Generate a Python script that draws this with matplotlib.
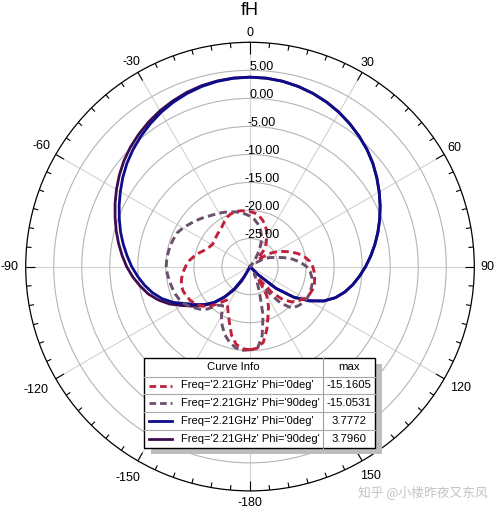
import numpy as np
import matplotlib
matplotlib.use('Agg')
import matplotlib.pyplot as plt
from matplotlib.patches import Rectangle
from matplotlib.lines import Line2D

plt.rcParams['font.family'] = ['Liberation Sans', 'DejaVu Sans']

# ---------------- data ----------------
theta_deg = np.arange(-180, 185, 5)   # sample angles, -180 ... 180

fh_phi0_dashed = [
    -15.16, -15.3, -15.9, -17.3, -19.3, -20.8, -22.0, -22.7, -21.5, -20.0,   # -180..-135
    -19.0, -18.3, -17.8, -17.5, -17.3, -17.3, -17.6, -18.0, -18.5, -19.0,    # -130..-85
    -19.8, -20.6, -21.4, -21.9, -22.2, -22.2, -22.0, -21.8, -21.6, -21.3,    # -80..-35
    -20.8, -20.3, -20.0, -19.9, -19.9, -20.0, -20.2, -20.4, -20.8, -21.4,    # -30..15
    -22.1, -23.0, -24.0, -25.0, -26.0, -28.0, -28.0, -26.0, -24.8, -23.6,    # 20..65
    -22.3, -21.1, -20.1, -19.3, -18.8, -18.5, -18.3, -18.1, -18.1, -18.3,    # 70..115
    -18.7, -19.4, -20.2, -21.6, -24.0, -27.5, -24.0, -22.2, -20.6, -18.4,    # 120..165
    -16.3, -15.4, -15.16,                                                    # 170..180
]

fh_phi90_dashed = [
    -15.2, -15.0, -15.3, -16.0, -17.0, -18.3, -19.8, -21.5, -21.0, -19.3,
    -18.2, -17.4, -16.6, -16.1, -15.8, -15.6, -15.4, -15.2, -15.05, -15.1,
    -15.2, -15.3, -15.5, -15.7, -16.2, -16.8, -17.3, -17.8, -18.3, -18.7,
    -19.0, -19.3, -19.6, -19.9, -20.2, -20.6, -21.0, -21.5, -22.2, -23.0,
    -24.0, -25.3, -26.8, -28.3, -29.5, -30.0, -30.0, -29.0, -27.5, -26.2,
    -25.2, -23.8, -22.3, -21.0, -19.9, -19.2, -18.8, -18.5, -18.4, -18.3,
    -18.4, -18.6, -19.0, -19.6, -21.5, -24.5, -28.5, -27.0, -25.0, -21.0,
    -17.5, -15.2, -15.2,
]

fh_phi0_solid = [
    -35.0, -35.0, -35.0, -35.0, -33.0, -30.5, -27.8, -25.2, -23.0, -21.0,
    -19.5, -18.2, -16.8, -14.9, -13.3, -12.0, -10.9, -9.9, -8.9, -8.0,
    -7.05, -6.1, -5.2, -4.25, -3.3, -2.3, -1.35, -0.5, 0.3, 1.05,
    1.75, 2.35, 2.85, 3.25, 3.55, 3.72, 3.777, 3.72, 3.55, 3.25,
    2.85, 2.35, 1.75, 1.05, 0.3, -0.5, -1.4, -2.4, -3.4, -4.4,
    -5.4, -6.4, -7.4, -8.4, -9.4, -10.4, -11.4, -12.5, -13.8, -15.5,
    -17.8, -20.5, -24.0, -28.0, -32.0, -35.0, -35.0, -35.0, -35.0, -35.0,
    -35.0, -35.0, -35.0,
]

fh_phi90_solid = [
    -35.0, -35.0, -35.0, -35.0, -32.0, -29.5, -27.0, -24.8, -22.8, -20.8,
    -19.2, -17.7, -16.1, -14.2, -12.6, -11.2, -10.1, -9.0, -8.0, -7.1,
    -6.2, -5.3, -4.4, -3.45, -2.5, -1.55, -0.65, 0.15, 0.85, 1.5,
    2.1, 2.6, 3.05, 3.4, 3.62, 3.76, 3.796, 3.74, 3.57, 3.27,
    2.87, 2.37, 1.77, 1.07, 0.32, -0.48, -1.38, -2.38, -3.38, -4.38,
    -5.38, -6.38, -7.38, -8.38, -9.38, -10.38, -11.38, -12.48, -13.78, -15.48,
    -17.78, -20.48, -24.0, -28.0, -32.0, -35.0, -35.0, -35.0, -35.0, -35.0,
    -35.0, -35.0, -35.0,
]

curve_labels = ["Freq='2.21GHz' Phi='0deg'", "Freq='2.21GHz' Phi='90deg'",
                "Freq='2.21GHz' Phi='0deg'", "Freq='2.21GHz' Phi='90deg'"]
curve_max = ["-15.1605", "-15.0531", "3.7772", "3.7960"]
curve_colors = ['#C0203A', '#6C4F6C', '#0C0C8C', '#3E0C4E']
curve_styles = ['--', '--', '-', '-']

r_ticks = [-25, -20, -15, -10, -5, 0, 5]
r_tick_labels = ['-25.00', '-20.00', '-15.00', '-10.00', '-5.00', '0.00', '5.00']
theta_major = [0, 30, 60, 90, 120, 150, 180, 210, 240, 270, 300, 330]
theta_labels = ['0', '30', '60', '90', '120', '150', '-180', '-150', '-120', '-90', '-60', '-30']
# distance of each angle label centre from the plot centre (px)
theta_label_dist = [233.5, 235, 236.5, 237.5, 243, 242, 236.5, 244.5, 247, 240, 240.5, 236.5]

R_MIN, R_MAX = -30, 10

# ---------------- figure ----------------
W, H = 500, 515
fig = plt.figure(figsize=(W / 100, H / 100), dpi=100)
cx, cy, rad = 250.0, 266.6, 224.3
ax = fig.add_axes([(cx - rad) / W, (H - cy - rad) / H, 2 * rad / W, 2 * rad / H],
                  projection='polar')
ax.set_theta_zero_location('N')
ax.set_theta_direction(-1)
ax.set_ylim(R_MIN, R_MAX)
px_per_db = rad / (R_MAX - R_MIN)

th = np.deg2rad(theta_deg)
series = [fh_phi0_dashed, fh_phi90_dashed, fh_phi0_solid, fh_phi90_solid]
zorders = [6, 5, 4, 3]
for vals, col, ls, z in zip(series, curve_colors, curve_styles, zorders):
    r = np.clip(np.array(vals), R_MIN, R_MAX)
    if ls == '--':
        ax.plot(th, r, color=col, lw=2.1, dashes=(2.6, 1.5), zorder=z,
                solid_joinstyle='round', dash_capstyle='butt')
    else:
        ax.plot(th, r, color=col, lw=2.0, zorder=z, solid_joinstyle='round')

# grid
ax.set_yticks(r_ticks)
ax.set_yticklabels([])
ax.yaxis.grid(True, color='#b5b5b5', lw=0.8)
ax.set_xticks(np.deg2rad(theta_major))
ax.set_xticklabels([])
ax.xaxis.grid(True, which='major', color='#d2d2d2', lw=0.8)
ax.tick_params(axis='both', which='both', length=0)
ax.spines['polar'].set_linewidth(0.9)
ax.spines['polar'].set_color('black')
ax.set_facecolor('white')

# tick marks on the outer circle (every 5 deg, longer every 30 deg)
for a in range(0, 360, 5):
    if a == 0:
        ln = 11.5
    elif a % 30 == 0:
        ln = 9.5
    else:
        ln = 5.0
    ax.plot([np.deg2rad(a)] * 2, [R_MAX, R_MAX - ln / px_per_db], color='black',
            lw=0.8, zorder=8, clip_on=False, solid_capstyle='butt')

# angle labels
for a, lab, d in zip(theta_major, theta_labels, theta_label_dist):
    ar = np.deg2rad(a)
    dx = (d - rad) * np.sin(ar) * 0.72
    dy = (d - rad) * np.cos(ar) * 0.72
    ax.annotate(lab, xy=(ar, R_MAX), xytext=(dx, dy), textcoords='offset points',
                ha='center', va='center', fontsize=9, annotation_clip=False)

for rv, lab in zip(r_ticks, r_tick_labels):
    ax.annotate(lab, xy=(0, rv), xytext=(8.5, 2.5), textcoords='offset points',
                ha='center', va='center', fontsize=9, color='black', zorder=10,
                annotation_clip=False)

fig.text(0.5, 1 - 10.5 / H, 'fH', ha='center', va='center', fontsize=13)

# ---------------- legend table ----------------
ov = fig.add_axes([0, 0, 1, 1], zorder=20)
ov.set_xlim(0, W)
ov.set_ylim(H, 0)
ov.axis('off')
ov.patch.set_alpha(0)

tx0, ty0, tx1, ty1 = 144, 358, 375, 448
ov.add_patch(Rectangle((tx0 + 7, ty0 + 6), tx1 - tx0, ty1 - ty0, facecolor='#bdbdbd',
                       edgecolor='none'))
ov.add_patch(Rectangle((tx0, ty0), tx1 - tx0, ty1 - ty0, facecolor='white',
                       edgecolor='black', lw=1.0))
col_x = 323
ov.plot([col_x, col_x], [ty0, ty1], color='#a0a0a0', lw=0.8)
row_edges = [376.5, 394, 412, 430]
for yy in row_edges:
    ov.plot([tx0, tx1], [yy, yy], color='#a8a8a8', lw=0.8)
ov.text((tx0 + col_x) / 2, 367.5, 'Curve Info', ha='center', va='center', fontsize=8.2)
ov.text((col_x + tx1) / 2, 367.5, 'max', ha='center', va='center', fontsize=8.2)
row_centers = [385.5, 403, 421, 439]
for yc, lab, mx, col, ls in zip(row_centers, curve_labels, curve_max, curve_colors,
                                curve_styles):
    if ls == '--':
        ov.add_line(Line2D([149, 172], [yc, yc], color=col, lw=2.0, dashes=(2.4, 1.4)))
    else:
        ov.add_line(Line2D([149, 172], [yc, yc], color=col, lw=2.0))
    ov.text(181, yc, lab, ha='left', va='center', fontsize=8.0)
    ov.text((col_x + tx1) / 2, yc, mx, ha='center', va='center', fontsize=8.2)

ov.text(423, 492, '知乎 @小楼昨夜又东风', ha='center', va='center', fontsize=9.2,
        color='#c4c4c4', family=['Noto Sans CJK SC', 'DejaVu Sans'])

fig.savefig('out.png', dpi=100, facecolor='white')
